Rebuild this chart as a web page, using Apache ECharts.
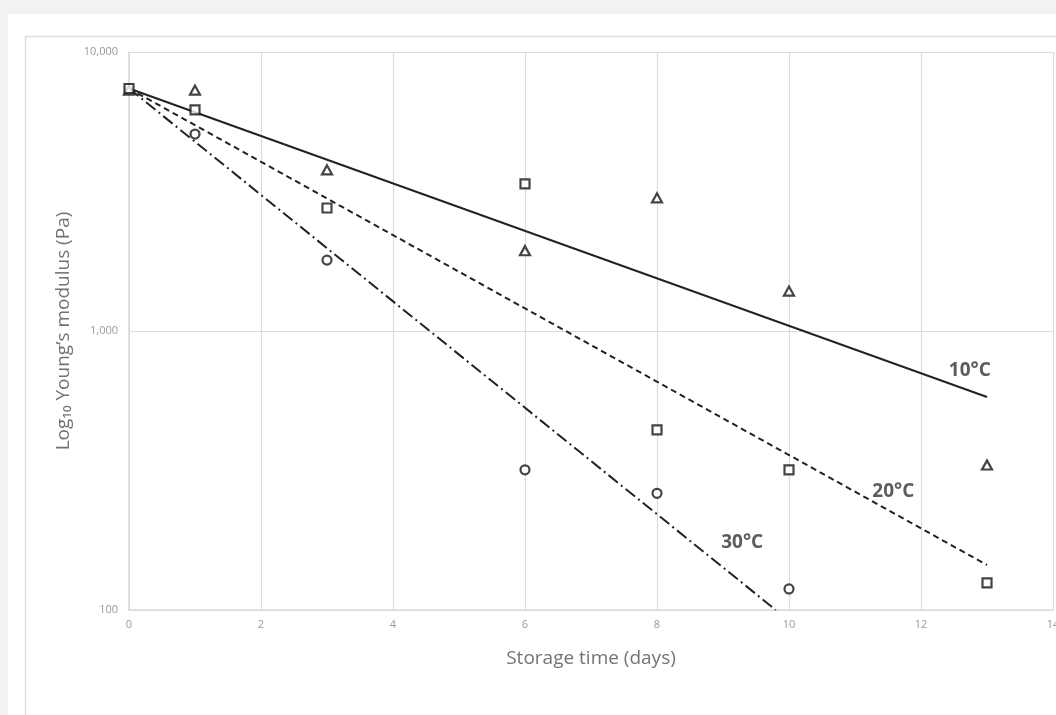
<!DOCTYPE html>
<html><head><meta charset="utf-8">
<script src="https://cdn.jsdelivr.net/npm/echarts@6/dist/echarts.min.js"></script>
<style>html,body{margin:0;padding:0;background:#f2f2f2;}#c{width:1056px;height:715px;}</style>
</head><body><div id="c"></div>
<script>
var days = [0, 1, 3, 6, 8, 10, 13];
var tri10 = [7300, 7300, 3780, 1940, 3000, 1390, 331];
var sq20 = [7400, 6200, 2760, 3370, 442, 318, 125];
var circDays = [1, 3, 6, 8, 10];
var circ30 = [5080, 1795, 318, 262, 119];
var fit10 = [[0, 7400], [13, 580]];
var fit20 = [[0, 7400], [13, 145]];
var fit30 = [[0, 7400], [9.8, 100]];
var labelNames = ['10°C', '20°C', '30°C'];
var labelPos = [[12.74, 720], [11.58, 265], [9.29, 174]];
var xTicks = [0, 2, 4, 6, 8, 10, 12, 14];
var yTicks = [100, 1000, 10000];

function pairs(xs, ys){ return xs.map(function(x,i){ return [x, ys[i]]; }); }

var chart = echarts.init(document.getElementById('c'), null, {renderer:'canvas'});
var mk = {color:'#ffffff', borderColor:'#151515', borderWidth:2.2};
chart.setOption({
  backgroundColor:'#f2f2f2',
  animation:false,
  graphic:[
    {type:'rect', z:-10, shape:{x:8,y:14,width:1100,height:760}, style:{fill:'#ffffff'}},
    {type:'rect', z:-9, shape:{x:25.5,y:36.5,width:1100,height:760}, style:{fill:'none', stroke:'#dedede', lineWidth:1.5}}
  ],
  grid:{left:129, top:52, right:3, bottom:105, containLabel:false, outerBoundsMode:'none'},
  xAxis:{type:'value', min:0, max:14, interval:2,
    name:'Storage time (days)', nameLocation:'middle', nameGap:39,
    nameTextStyle:{fontFamily:'Open Sans', fontSize:19, color:'#737373'},
    axisLine:{show:true, lineStyle:{color:'#d9d9d9', width:1.5}}, axisTick:{show:false},
    axisLabel:{fontFamily:'Open Sans', fontSize:11, color:'#999999', margin:9},
    splitLine:{show:true, lineStyle:{color:'#dcdcdc', width:1.2}}},
  yAxis:{type:'log', logBase:10, min:100, max:10000,
    name:'Log\u2081\u2080 Young\u2019s modulus (Pa)', nameLocation:'middle', nameGap:53, nameRotate:90,
    nameTextStyle:{fontFamily:'Open Sans', fontSize:19, color:'#737373'},
    axisLine:{show:true, lineStyle:{color:'#d9d9d9', width:1.5}}, axisTick:{show:false},
    axisLabel:{fontFamily:'Open Sans', fontSize:11, color:'#999999', margin:11,
      formatter:function(v){ return Math.round(v).toLocaleString('en-US'); }},
    splitLine:{show:true, lineStyle:{color:'#dcdcdc', width:1.2}}},
  series:[
    {type:'line', data:fit10, showSymbol:false, symbol:'none', lineStyle:{color:'#222', width:2, type:'solid'}, z:3},
    {type:'line', data:fit20, showSymbol:false, symbol:'none', lineStyle:{color:'#222', width:2, type:[6,4]}, z:3},
    {type:'line', data:fit30, showSymbol:false, symbol:'none', lineStyle:{color:'#222', width:2, type:[12,4,2,4]}, z:3},
    {type:'scatter', data:pairs(circDays, circ30), symbol:'circle', symbolSize:9, itemStyle:mk, z:4},
    {type:'scatter', data:pairs(days, tri10), symbol:'triangle', symbolSize:[10,9], itemStyle:mk, z:4},
    {type:'scatter', data:pairs(days, sq20), symbol:'rect', symbolSize:9, itemStyle:mk, z:5},
    {type:'scatter', symbolSize:0, silent:true, z:6,
      data:labelPos.map(function(p,i){ return {value:p, name:labelNames[i]}; }),
      label:{show:true, position:'inside', formatter:'{b}', fontFamily:'Open Sans', fontWeight:'bold', fontSize:19, color:'#333333'}}
  ]
});
</script></body></html>
